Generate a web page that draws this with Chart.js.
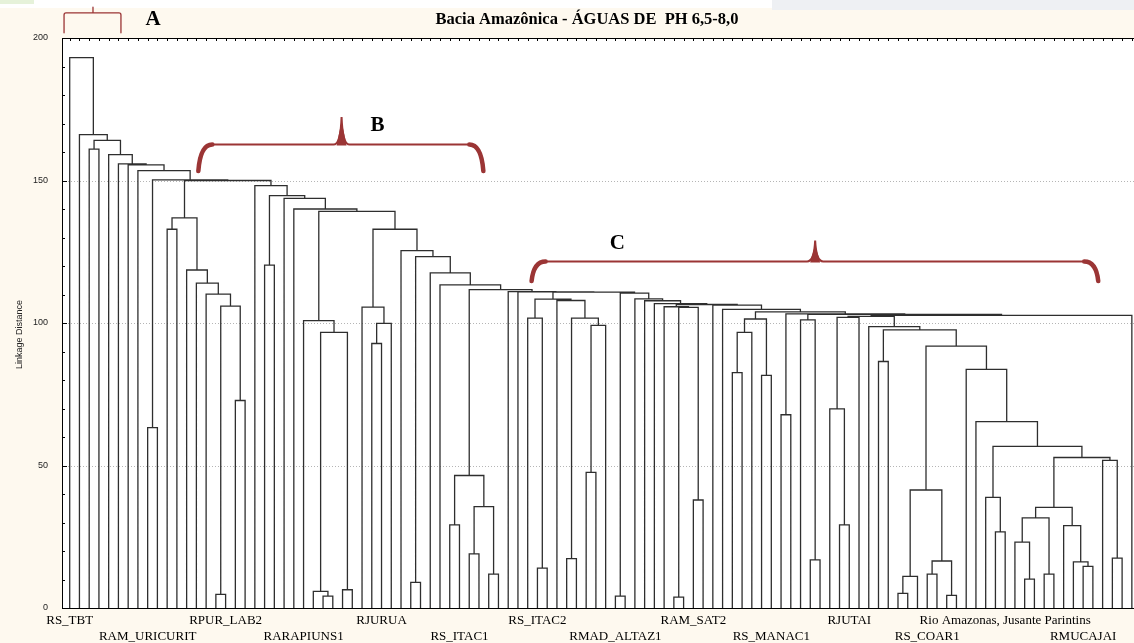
<!DOCTYPE html>
<html><head><meta charset="utf-8">
<script src="https://cdn.jsdelivr.net/npm/chart.js@4.4.1/dist/chart.umd.min.js"></script>
<style>html,body{margin:0;padding:0;background:#FEF9EF;overflow:hidden}canvas{display:block}</style>
</head><body><canvas id="c" width="1134" height="643"></canvas>
<script>
// ---- data ----
const leafCount = 110;
const labelLeaves = [0,8,16,24,32,40,48,56,64,72,80,88,96,104];
const labelNames = ['RS_TBT','RAM_URICURIT','RPUR_LAB2','RARAPIUNS1','RJURUA','RS_ITAC1','RS_ITAC2','RMAD_ALTAZ1','RAM_SAT2','RS_MANAC1','RJUTAI','RS_COAR1','Rio Amazonas, Jusante Parintins','RMUCAJAI'];
const yTicks = [0,50,100,150,200];
// each merge: cluster [from..to] = [from..split] + [split+1..to] at linkage distance
const mergeFrom = [0,1,2,2,4,5,6,7,8,8, 10,10,10,12,13,14,15,15,17,19, 20,20,22,23,24,24,25,25,26,28,
  30,30,31,31,34,35,35,37,38,39, 39,39,41,41,43,45,46,47,47,47, 48,50,51,51,53,53,56,56,58,59,
  60,61,61,62,62,64,66,67,68,68, 68,68,71,73,73,75,75,76,78,78, 78,78,79,82,83,83,85,85,85,85,
  88,88,90,92,93,94,94,95,97,97, 97,97,98,100,102,103,104,106,107];
const mergeSplit = [0,1,3,2,4,5,6,7,9,8, 18,11,10,12,13,14,16,15,17,19, 21,20,22,23,29,24,27,25,26,28,
  33,30,32,31,34,36,35,37,38,44, 40,39,42,41,43,45,46,55,49,47, 48,50,52,51,54,53,57,56,58,59,
  60,65,61,63,62,64,66,67,72,70, 69,68,71,74,73,77,75,76,108,81, 80,78,79,82,84,83,91,87,86,85,
  89,88,90,92,93,96,94,95,105,101, 99,97,98,100,102,103,104,106,107];
const mergeTo = [109,109,109,3,109,109,109,109,109,9, 109,18,11,18,18,18,18,16,18,109, 109,21,109,109,109,29,29,27,27,29,
  109,33,33,32,109,109,36,109,109,109, 44,40,44,42,44,109,109,109,55,49, 49,55,55,52,55,54,109,57,109,109,
  109,109,65,65,63,65,109,109,109,72, 70,69,72,109,74,109,77,77,109,108, 81,80,80,108,108,84,108,91,87,86,
  91,89,91,108,108,108,96,96,108,105, 101,99,99,101,105,105,105,108,108];
const mergeHeight = [193.1,166.1,164.1,161.0,159.1,155.8,155.5,153.5,150.2,63.3,
  150.0,136.9,132.9,118.6,114.0,110.1,105.9,4.8,72.8,148.2,
  144.7,120.3,143.7,140.0,139.2,100.8,96.7,5.8,4.2,6.4,
  132.9,105.6,99.9,92.8,125.4,123.3,9.0,117.6,113.4,111.7,
  46.5,29.2,35.6,19.0,11.9,111.0,110.9,110.8,108.4,101.7,
  14.0,107.9,101.7,17.3,99.2,47.6,110.5,4.2,108.5,107.8,
  106.8,106.5,105.7,105.5,3.8,37.9,106.3,104.8,103.9,101.4,
  96.7,82.6,81.6,103.2,67.8,103.0,101.1,16.9,102.7,102.3,
  102.0,69.9,29.2,98.7,97.6,86.5,91.9,41.4,11.1,5.1,
  16.5,11.9,4.4,83.7,65.4,56.7,38.8,26.7,52.8,35.3,
  31.6,23.1,10.1,11.9,28.9,16.2,14.6,51.8,17.5];

// ---- build dendrogram segments (in data units) ----
const idx = {};
mergeFrom.forEach((a,i)=>{ idx[a+'-'+mergeTo[i]] = i; });
const memo = {};
function stemX(a,c){
  if (a===c) return a;
  const k=a+'-'+c; if (memo[k]!==undefined) return memo[k];
  const i=idx[k]; const s=mergeSplit[i];
  return memo[k]=(stemX(a,s)+stemX(s+1,c))/2;
}
function stemH(a,c){ return a===c ? 0 : mergeHeight[idx[a+'-'+c]]; }
const segs = [];
mergeFrom.forEach((a,i)=>{
  const b=mergeSplit[i], c=mergeTo[i], h=mergeHeight[i];
  const xl=stemX(a,b), xr=stemX(b+1,c);
  segs.push({x:xl,y:stemH(a,b)},{x:xl,y:h},{x:xr,y:h},{x:xr,y:stemH(b+1,c)},{x:xr,y:null});
});

// ---- decorations ----
const RED = '#9B3535';
const deco = {
  id:'deco',
  beforeDraw(chart){
    const {ctx, chartArea:a, width} = chart;
    ctx.save();
    ctx.fillStyle='#FEF9EF'; ctx.fillRect(0,0,width,chart.height);
    ctx.fillStyle='#ffffff'; ctx.fillRect(0,0,width,8);
    ctx.fillStyle='#E6F2DA'; ctx.fillRect(0,0,34,4);
    ctx.fillStyle='#EEF0F3'; ctx.fillRect(772,0,width-772,10);
    ctx.fillStyle='#ffffff'; ctx.fillRect(a.left,a.top,a.right-a.left,a.bottom-a.top);
    ctx.restore();
  },
  beforeDatasetsDraw(chart){
    const {ctx, chartArea:a, scales:{y}} = chart;
    ctx.save();
    ctx.strokeStyle='#b5b5b5'; ctx.lineWidth=1; ctx.setLineDash([1,2]);
    [50,100,150].forEach(v=>{ const py=Math.round(y.getPixelForValue(v))+0.5;
      ctx.beginPath(); ctx.moveTo(a.left,py); ctx.lineTo(a.right,py); ctx.stroke(); });
    ctx.restore();
  },
  afterDraw(chart){
    const {ctx, chartArea:a, scales:{x,y}} = chart;
    ctx.save();
    // frame
    ctx.strokeStyle='#000'; ctx.lineWidth=1;
    ctx.beginPath();
    ctx.moveTo(a.left+0.5,a.top); ctx.lineTo(a.left+0.5,a.bottom);
    ctx.moveTo(a.left,a.top+0.5); ctx.lineTo(a.right,a.top+0.5);
    ctx.moveTo(a.left,a.bottom+0.5); ctx.lineTo(a.right,a.bottom+0.5);
    ctx.stroke();
    // ticks: top axis at every leaf, left axis every 10
    ctx.beginPath();
    for(let k=0;k<leafCount;k++){ const px=Math.round(x.getPixelForValue(k))+0.5; ctx.moveTo(px,a.top); ctx.lineTo(px,a.top+3); }
    for(let v=0;v<=200;v+=10){ const py=Math.round(y.getPixelForValue(v))+0.5; ctx.moveTo(a.left,py); ctx.lineTo(a.left+(v%50===0?5:3),py); }
    ctx.stroke();
    // title
    ctx.fillStyle='#000'; ctx.textAlign='center'; ctx.textBaseline='middle';
    ctx.font='bold 16.5px "Liberation Serif"';
    ctx.fillText('Bacia Amazônica - ÁGUAS DE  PH 6,5-8,0', 587, 20);
    // y title
    ctx.save(); ctx.translate(20, y.getPixelForValue(96)); ctx.rotate(-Math.PI/2);
    ctx.font='9px "Liberation Sans"'; ctx.fillStyle='#222'; ctx.fillText('Linkage Distance',0,0); ctx.restore();
    // braces (positions in data units)
    const P=(xv,yv)=>[x.getPixelForValue(xv), y.getPixelForValue(yv)];
    ctx.strokeStyle=RED; ctx.lineCap='round';
    {
      const [x0,yb]=P(-0.58,201.8), [x1,yh]=P(5.26,208.8), [xt,yt]=P(2.39,210.8);
      ctx.lineWidth=1.3; ctx.beginPath();
      ctx.moveTo(x0,yb); ctx.lineTo(x0,yh+2); ctx.quadraticCurveTo(x0,yh,x0+2,yh); ctx.lineTo(x1-2,yh);
      ctx.quadraticCurveTo(x1,yh,x1,yh+2); ctx.lineTo(x1,yb);
      ctx.moveTo(xt,yh); ctx.lineTo(xt,yt); ctx.stroke();
    }
    const curly=(xa,xb,xt,lev,bot,tip)=>{
      const [pa,ph]=P(xa,lev), [pb]=P(xb,lev), [pt,ptip]=P(xt,tip), [,pbot]=P(xa,bot);
      const r=14;
      ctx.lineWidth=2; ctx.beginPath();
      ctx.moveTo(pa+r,ph); ctx.lineTo(pt-8,ph); ctx.quadraticCurveTo(pt-1,ph,pt,ptip);
      ctx.quadraticCurveTo(pt+1,ph,pt+8,ph); ctx.lineTo(pb-r,ph); ctx.stroke();
      ctx.lineWidth=4.5; ctx.beginPath();
      ctx.moveTo(pa+r,ph); ctx.quadraticCurveTo(pa+2,ph,pa,pbot);
      ctx.moveTo(pb-r,ph); ctx.quadraticCurveTo(pb-2,ph,pb,pbot); ctx.stroke();
      ctx.fillStyle=RED; ctx.beginPath(); ctx.moveTo(pt-5,ph+1); ctx.lineTo(pt,ptip+4); ctx.lineTo(pt+5,ph+1); ctx.closePath(); ctx.fill();
    };
    curly(13.2,42.45,27.9,162.6,153.3,172.3);
    curly(47.4,105.55,76.5,121.6,114.7,128.9);
    ctx.fillStyle='#000'; ctx.font='bold 21px "Liberation Serif"'; ctx.textAlign='center'; ctx.textBaseline='middle';
    let p=P(8.55,206.3); ctx.fillText('A',p[0],p[1]);
    p=P(31.6,169.2); ctx.fillText('B',p[0],p[1]);
    p=P(56.2,127.8); ctx.fillText('C',p[0],p[1]);
    ctx.restore();
  }
};

new Chart(document.getElementById('c').getContext('2d'), {
  type:'line',
  data:{datasets:[{data:segs, borderColor:'#2e2e2e', borderWidth:1.3, pointRadius:0, pointHoverRadius:0,
    tension:0, spanGaps:false, fill:false}]},
  options:{
    responsive:false, animation:false, devicePixelRatio:1,
    layout:{padding:{top:38,left:0,right:0,bottom:0}},
    plugins:{legend:{display:false}, tooltip:{enabled:false}, title:{display:false}},
    scales:{
      x:{type:'linear', min:-0.79, max:109.22,
        grid:{display:false, drawTicks:false}, border:{display:false},
        afterBuildTicks:(s)=>{ s.ticks = labelLeaves.map(v=>({value:v})); },
        afterFit:(s)=>{ s.height = 35; },
        ticks:{autoSkip:false, maxRotation:0, minRotation:0, padding:5, color:'#000',
          font:{family:'Liberation Serif', size:13},
          callback:(v)=>{ const k=labelLeaves.indexOf(v); if(k<0) return '';
            return k%2===0 ? [labelNames[k],''] : ['',labelNames[k]]; }}},
      y:{type:'linear', min:0, max:200,
        grid:{display:false, drawTicks:false}, border:{display:false},
        afterBuildTicks:(s)=>{ s.ticks = yTicks.map(v=>({value:v})); },
        afterFit:(s)=>{ s.width = 62; },
        ticks:{padding:14, color:'#222', font:{family:'Liberation Sans', size:9}}}
    }
  },
  plugins:[deco]
});
</script>
</body></html>
